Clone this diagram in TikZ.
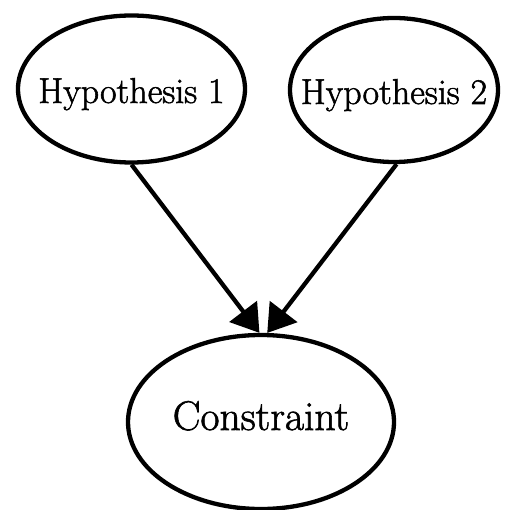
\documentclass[tikz,border=0pt]{standalone}
\usepackage{fontspec}
\setmainfont{Latin Modern Roman}[FakeBold=1.5]
\usetikzlibrary{shapes.geometric,arrows.meta}
% text is boxed at zero width so the ellipse keeps its own given size
\newcommand{\ctext}[1]{\makebox[0pt][c]{#1}}
\begin{document}
\begin{tikzpicture}[x=1pt,y=-1pt,
  every node/.style={ellipse,draw,line width=4.3pt,inner sep=0pt},
  hyp/.style={font=\fontsize{36}{38}\selectfont,text height=28pt,text depth=0pt},
  con/.style={font=\fontsize{41.5}{44}\selectfont,text height=16pt,text depth=0pt},
  edge/.style={line width=4.3pt,-{Triangle[length=27pt,width=34pt]}}]
  \useasboundingbox (0,0) rectangle (504,510);
  \node[hyp,minimum width=227pt,minimum height=147pt] (h1) at (131.5,89) {\ctext{Hypothesis 1}};
  \node[hyp,minimum width=208pt,minimum height=144pt] (h2) at (394,90) {\ctext{Hypothesis 2}};
  \node[con,minimum width=266pt,minimum height=174pt] (c) at (261,422) {\ctext{Constraint}};
  \draw[edge] (h1.south) -- (c.91);
  \draw[edge] (h2.272) -- (c.86);
\end{tikzpicture}
\end{document}
